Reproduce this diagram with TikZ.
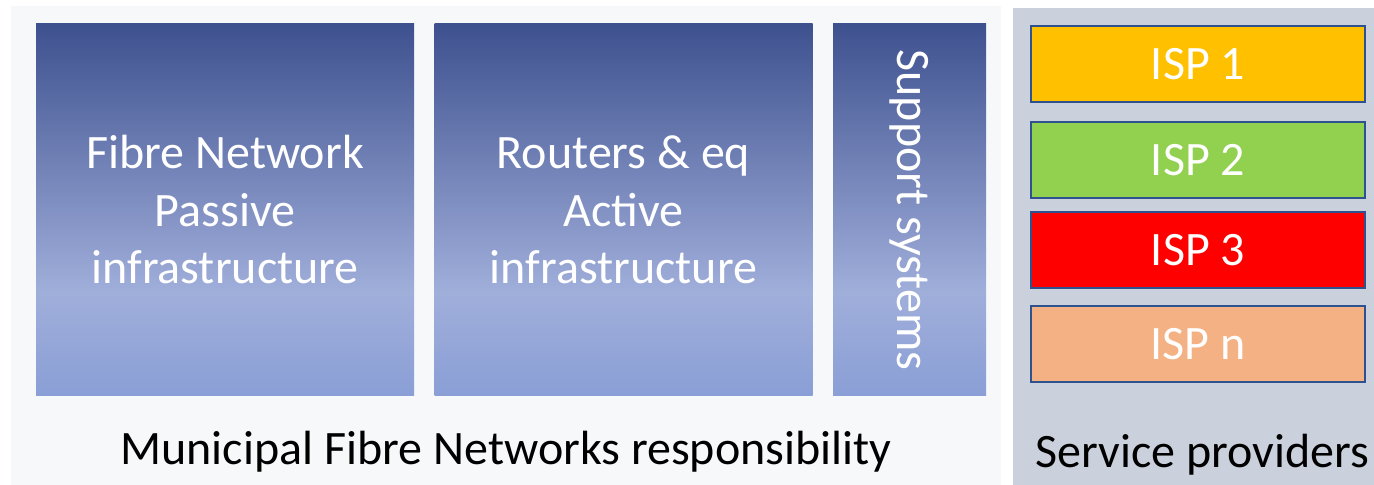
\documentclass[tikz,border=0pt]{standalone}
\usepackage{fontspec}
\setmainfont{Carlito}
\usepackage{tikz}
\definecolor{panelbg}{HTML}{F7F8FA}
\definecolor{providerbg}{HTML}{CAD1DC}
\definecolor{infratop}{HTML}{3E518F}
\definecolor{inframid}{HTML}{A0AEDA}
\definecolor{infrabot}{HTML}{8A9FD6}
\definecolor{ispedge}{HTML}{2F528F}
\definecolor{ispone}{HTML}{FFC000}
\definecolor{isptwo}{HTML}{92D050}
\definecolor{ispthree}{HTML}{FF0000}
\definecolor{ispn}{HTML}{F4B183}
\pgfdeclareverticalshading{infrashade}{100bp}{color(0bp)=(infrabot); color(25bp)=(infrabot); color(39bp)=(inframid); color(75bp)=(infratop); color(100bp)=(infratop)}
\begin{document}
\begin{tikzpicture}[x=0.5pt,y=-0.5pt,
  bigfont/.style={font=\fontsize{24}{28.75}\selectfont},
  infra/.style={shading=infrashade,draw=none,inner sep=0pt,text=white,align=center,bigfont},
  isp/.style={draw=ispedge,line width=1pt,minimum width=167pt,minimum height=38pt,inner sep=0pt,text=white,bigfont},
  caption/.style={anchor=base,text=black,bigfont}]
\useasboundingbox (0,0) rectangle (1374,485);
\fill[white] (0,0) rectangle (1374,485);
\fill[panelbg] (11,6) rectangle (1001,485);
\fill[providerbg] (1013,8) rectangle (1374,485);
% municipal part
\node[infra,minimum width=189pt,minimum height=186pt] (passive) at (225,210) {Fibre Network\\Passive\\infrastructure};
\node[infra,minimum width=189pt,minimum height=186pt] (active) at (623.5,210) {Routers \& eq\\Active\\infrastructure};
\node[infra,minimum width=76.5pt,minimum height=186pt] (support) at (909.5,210) {};
\node[text=white,bigfont,rotate=-90] (supportlbl) at (support.center) {Support systems};
\node[caption] (municipal) at (506,465) {Municipal Fibre Networks responsibility};
% service providers
\node[isp,fill=ispone] (isp1) at (1198,64) {ISP 1};
\node[isp,fill=isptwo] (isp2) at (1198,160.5) {ISP 2};
\node[isp,fill=ispthree] (isp3) at (1198,250) {ISP 3};
\node[isp,fill=ispn] (ispn) at (1198,344) {ISP n};
\node[caption] (providers) at (1202,467) {Service providers};
\end{tikzpicture}
\end{document}
